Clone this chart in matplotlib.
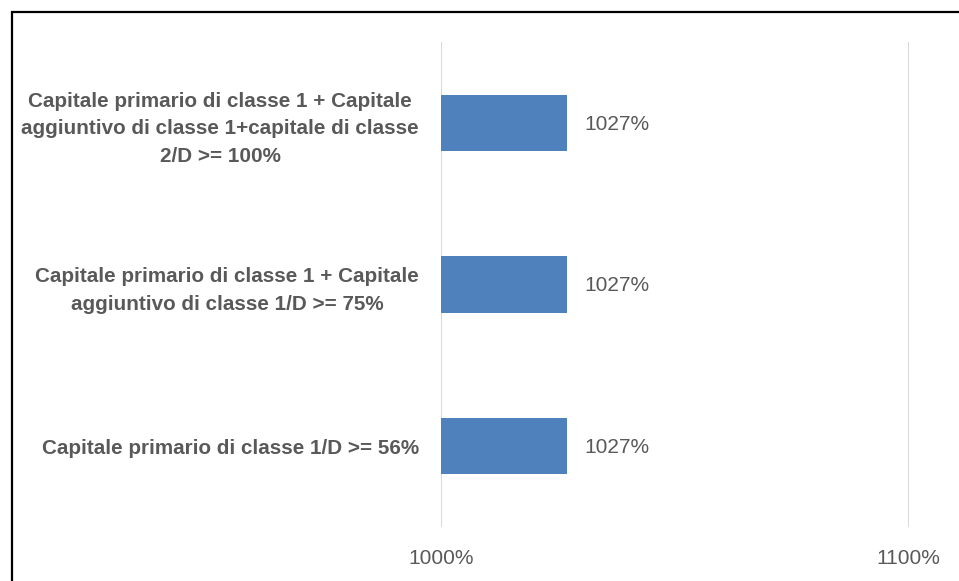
import matplotlib.pyplot as plt
from matplotlib.patches import Rectangle

# data (bottom to top)
categories = [
    "Capitale primario di classe 1/D >= 56%",
    "Capitale primario di classe 1 + Capitale\naggiuntivo di classe 1/D >= 75%",
    "Capitale primario di classe 1 + Capitale\naggiuntivo di classe 1+capitale di classe\n2/D >= 100%",
]
values = [1027, 1027, 1027]
x_ticks = [1000, 1100]

text_color = "#595959"
bar_color = "#4F81BD"
grid_color = "#D9D9D9"

plt.rcParams["font.family"] = ["Liberation Sans", "DejaVu Sans"]

fig = plt.figure(figsize=(9.59, 5.81), dpi=100)
ax = fig.add_axes([441 / 959, 1 - 527 / 581, (908.7 - 441) / 959, (527 - 42) / 581])

y_pos = list(range(len(categories)))
ax.barh(y_pos, values, height=0.35, color=bar_color, zorder=3)
ax.set_xlim(x_ticks[0], x_ticks[-1])
ax.set_ylim(-0.5, len(categories) - 0.5)

for y, v in zip(y_pos, values):
    ax.annotate(f"{v}%", xy=(v, y), xytext=(12, -1), textcoords="offset points",
                va="center", ha="left", fontsize=15, color=text_color)

ax.set_xticks(x_ticks)
ax.set_xticklabels([f"{t}%" for t in x_ticks], fontsize=15, color=text_color)
ax.set_yticks(y_pos)
ax.set_yticklabels(categories, fontsize=14.9, fontweight="bold", color=text_color,
                   multialignment="center", linespacing=1.55)
ax.tick_params(axis="both", length=0)
ax.tick_params(axis="y", pad=16)
ax.tick_params(axis="x", pad=16)

ax.grid(axis="x", color=grid_color, linewidth=1.5, zorder=0)
for side in ax.spines.values():
    side.set_visible(False)

# outer black frame (right and bottom edges fall outside the picture)
fig.patches.append(Rectangle((11.5 / 959, -0.2), 1.2, 1.2 - 11.5 / 581, fill=False,
                             edgecolor="black", linewidth=1.6, transform=fig.transFigure))

fig.savefig("out.png", dpi=100)
